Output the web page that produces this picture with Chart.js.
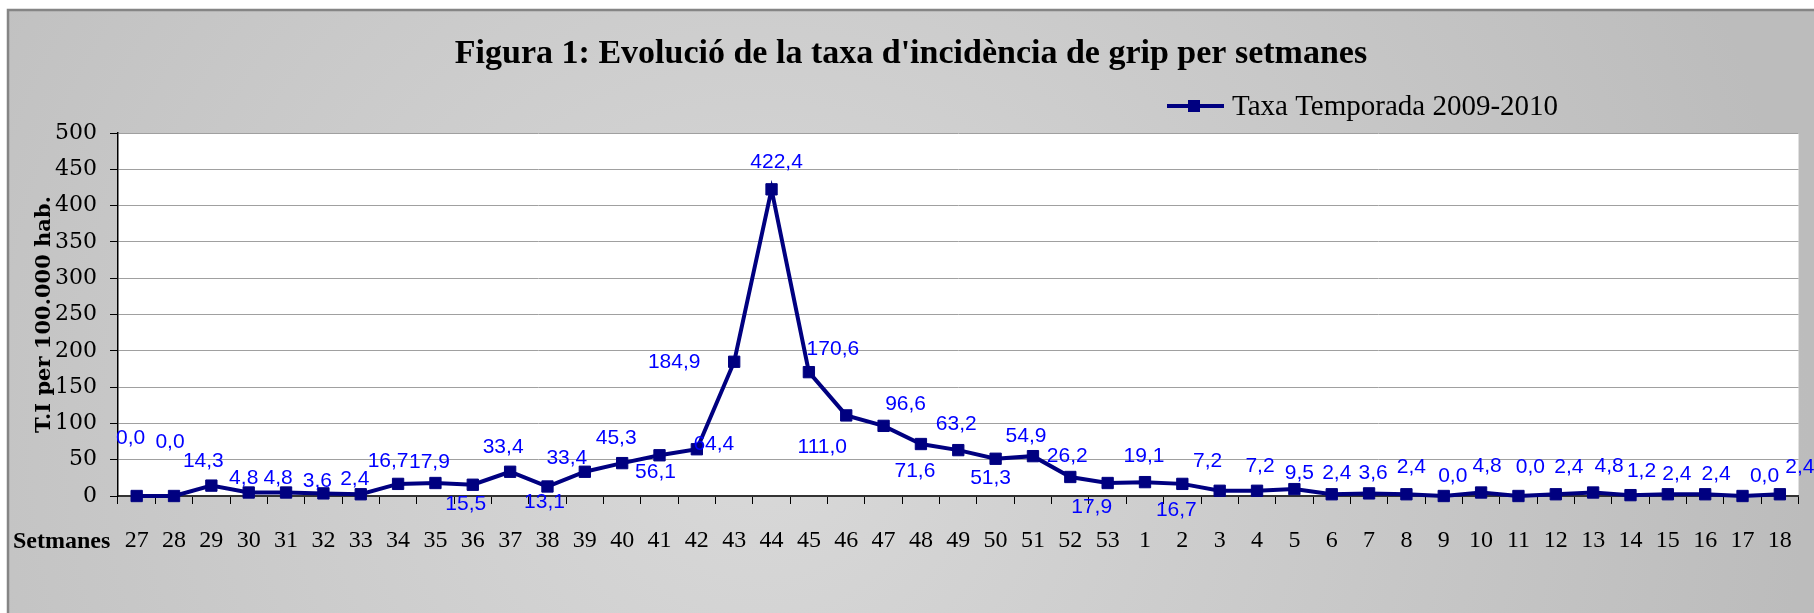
<!DOCTYPE html>
<html>
<head>
<meta charset="utf-8">
<title>Figura 1: Evolució de la taxa d'incidència de grip per setmanes</title>
<script src="https://cdn.jsdelivr.net/npm/chart.js@4.4.1/dist/chart.umd.min.js"></script>
<style>
  html, body { margin: 0; padding: 0; background: #fff; }
  canvas { display: block; }
</style>
</head>
<body>
<canvas id="chart" width="1814" height="613"></canvas>
<script>
const weeks = ['27', '28', '29', '30', '31', '32', '33', '34', '35', '36', '37', '38', '39', '40',
  '41', '42', '43', '44', '45', '46', '47', '48', '49', '50', '51', '52', '53',
  '1', '2', '3', '4', '5', '6', '7', '8', '9', '10', '11', '12', '13', '14', '15', '16', '17', '18'];
const rates = [0.0, 0.0, 14.3, 4.8, 4.8, 3.6, 2.4, 16.7, 17.9, 15.5, 33.4, 13.1, 33.4, 45.3,
  56.1, 64.4, 184.9, 422.4, 170.6, 111.0, 96.6, 71.6, 63.2, 51.3, 54.9, 26.2, 17.9,
  19.1, 16.7, 7.2, 7.2, 9.5, 2.4, 3.6, 2.4, 0.0, 4.8, 0.0, 2.4, 4.8, 1.2, 2.4, 2.4, 0.0, 2.4];
const yTicks = [0, 50, 100, 150, 200, 250, 300, 350, 400, 450, 500];
const seriesName = 'Taxa Temporada 2009-2010';

// where each value label sits relative to its point (px), as placed in the original
const labelShift = [
  [-6, -60], [-4, -56], [-8, -26], [-5, -16], [-8, -16], [-6, -14], [-6, -17], [-10, -24],
  [-6, -23], [-7, 18], [-7, -26], [-3, 14], [-18, -15], [-6, -27], [-4, 15], [17, -7],
  [-60, -1], [5, -29], [24, -25], [-24, 30], [22, -23], [-6, 25], [-2, -28], [-5, 18],
  [-7, -22], [-3, -22], [-16, 22], [-1, -28], [-6, 25], [-12, -31], [3, -26], [5, -18],
  [5, -23], [4, -22], [5, -29], [9, -22], [6, -28], [12, -31], [13, -29], [16, -28],
  [11, -26], [9, -22], [11, -22], [22, -22], [20, -29]
];

const NAVY = '#000080';
const SERIF = '"Liberation Serif", "Times New Roman", serif';
const DEJAVU = '"DejaVu Serif", serif';

const frame = {
  id: 'frame',
  beforeDraw(chart) {
    const { ctx, width, height, chartArea: a } = chart;
    ctx.save();
    ctx.fillStyle = '#fff';
    ctx.fillRect(0, 0, width, height);
    const g = ctx.createRadialGradient(760, 430, 0, 760, 430, 1050);
    g.addColorStop(0, '#d9d9d9');
    g.addColorStop(1, '#bcbcbc');
    ctx.fillStyle = g;
    ctx.fillRect(7, 9, width - 7, height - 9);
    ctx.strokeStyle = '#858585';
    ctx.lineWidth = 2.5;
    ctx.beginPath();
    ctx.moveTo(8, height);
    ctx.lineTo(8, 10);
    ctx.lineTo(width, 10);
    ctx.stroke();
    ctx.fillStyle = '#fff';
    ctx.fillRect(a.left, a.top, a.right - a.left, a.bottom - a.top);
    ctx.restore();
  },
  afterDraw(chart) {
    const { ctx, chartArea: a } = chart;
    ctx.save();
    ctx.fillStyle = '#000';
    ctx.textBaseline = 'alphabetic';

    // title
    ctx.font = 'bold 34px ' + SERIF;
    ctx.textAlign = 'center';
    ctx.fillText("Figura 1: Evolució de la taxa d'incidència de grip per setmanes", 911, 63);

    // legend
    ctx.strokeStyle = NAVY;
    ctx.lineWidth = 4;
    ctx.beginPath();
    ctx.moveTo(1167, 106);
    ctx.lineTo(1224, 106);
    ctx.stroke();
    ctx.fillStyle = NAVY;
    ctx.fillRect(1188, 100, 12, 12);
    ctx.fillStyle = '#000';
    ctx.font = '29px ' + SERIF;
    ctx.textAlign = 'left';
    ctx.fillText(seriesName, 1232, 115);

    // x axis caption
    ctx.font = 'bold 24px ' + SERIF;
    ctx.textAlign = 'left';
    ctx.fillText('Setmanes', 13, 548);

    // y axis title
    ctx.translate(50, (a.top + a.bottom) / 2);
    ctx.rotate(-Math.PI / 2);
    ctx.font = 'bold 21px ' + DEJAVU;
    ctx.textAlign = 'center';
    ctx.fillText('T.I per 100.000 hab.', 0, 0);
    ctx.restore();
  }
};

const valueLabels = {
  id: 'valueLabels',
  afterDatasetsDraw(chart) {
    const { ctx } = chart;
    const pts = chart.getDatasetMeta(0).data;
    ctx.save();
    ctx.fillStyle = '#0000ff';
    ctx.font = '21px "Liberation Sans", Arial, sans-serif';
    ctx.textAlign = 'center';
    ctx.textBaseline = 'alphabetic';
    pts.forEach((p, i) => {
      const txt = rates[i].toFixed(1).replace('.', ',');
      const [dx, dy] = labelShift[i];
      ctx.fillText(txt, p.x + dx, p.y + dy + 7.5);
    });
    ctx.restore();
  }
};

new Chart(document.getElementById('chart'), {
  type: 'line',
  data: {
    labels: weeks,
    datasets: [{
      label: seriesName,
      data: rates,
      borderColor: NAVY,
      backgroundColor: NAVY,
      borderWidth: 4,
      tension: 0,
      pointStyle: 'rect',
      pointRadius: 8,
      pointBorderWidth: 1,
      pointBackgroundColor: NAVY,
      pointBorderColor: NAVY,
      clip: false
    }]
  },
  options: {
    responsive: false,
    animation: false,
    devicePixelRatio: 1,
    layout: { padding: { top: 133, right: 12, bottom: 0, left: 0 } },
    plugins: {
      legend: { display: false },
      title: { display: false },
      tooltip: { enabled: false }
    },
    scales: {
      x: {
        offset: true,
        grid: { offset: true, drawOnChartArea: false, tickLength: 8, tickColor: '#000', tickWidth: 1 },
        border: { color: '#333', width: 2 },
        ticks: {
          autoSkip: false, maxRotation: 0, padding: 22, color: '#000',
          font: { family: SERIF, size: 24 }
        },
        afterFit(s) { s.height = 117; }
      },
      y: {
        min: 0,
        max: 500,
        afterBuildTicks(s) { s.ticks = yTicks.map(v => ({ value: v })); },
        grid: { color: '#a0a0a0', lineWidth: 1, tickLength: 8, tickColor: '#000' },
        border: { color: '#000', width: 1.5 },
        ticks: { padding: 13, color: '#000', font: { family: DEJAVU, size: 22 } },
        afterFit(s) { s.width = 118; }
      }
    }
  },
  plugins: [frame, valueLabels]
});
</script>
</body>
</html>
